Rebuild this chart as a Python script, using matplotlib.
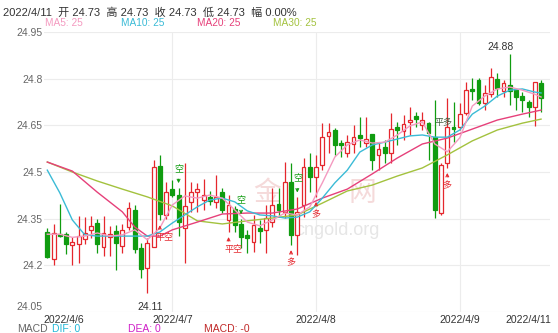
import matplotlib
matplotlib.use('Agg')
import matplotlib.pyplot as plt
import numpy as np

plt.rcParams['font.family'] = ['Liberation Sans', 'Noto Sans CJK SC', 'DejaVu Sans']

# --- candle data (80 bars) ---
opens = [24.307, 24.220, 24.300, 24.300, 24.266, 24.268, 24.285, 24.313, 24.336, 24.260,
         24.290, 24.310, 24.262, 24.323, 24.378, 24.256, 24.191, 24.260, 24.520, 24.362,
         24.445, 24.426, 24.320, 24.404, 24.436, 24.410, 24.420, 24.404, 24.436, 24.346,
         24.381, 24.333, 24.298, 24.275, 24.320, 24.314, 24.340, 24.397, 24.372, 24.468,
         24.298, 24.394, 24.516, 24.484, 24.522, 24.616, 24.635, 24.593, 24.561, 24.590,
         24.619, 24.593, 24.622, 24.555, 24.580, 24.561, 24.645, 24.632, 24.661, 24.680,
         24.651, 24.657, 24.612, 24.368, 24.529, 24.645, 24.645, 24.690, 24.767, 24.795,
         24.722, 24.750, 24.799, 24.760, 24.780, 24.763, 24.744, 24.725, 24.709, 24.786]
highs = [24.320, 24.333, 24.397, 24.307, 24.290, 24.360, 24.355, 24.360, 24.350, 24.360,
         24.327, 24.330, 24.333, 24.403, 24.394, 24.272, 24.288, 24.540, 24.555, 24.468,
         24.475, 24.450, 24.530, 24.468, 24.465, 24.478, 24.440, 24.490, 24.450, 24.426,
         24.390, 24.350, 24.313, 24.362, 24.346, 24.394, 24.449, 24.449, 24.532, 24.529,
         24.420, 24.545, 24.561, 24.555, 24.657, 24.657, 24.641, 24.603, 24.619, 24.651,
         24.677, 24.677, 24.622, 24.593, 24.603, 24.690, 24.660, 24.683, 24.709, 24.693,
         24.693, 24.661, 24.731, 24.530, 24.738, 24.725, 24.722, 24.789, 24.802, 24.802,
         24.779, 24.834, 24.818, 24.795, 24.880, 24.770, 24.757, 24.731, 24.789, 24.795]
lows = [24.224, 24.200, 24.290, 24.237, 24.200, 24.207, 24.270, 24.288, 24.240, 24.230,
        24.230, 24.185, 24.240, 24.313, 24.240, 24.160, 24.110, 24.260, 24.345, 24.350,
        24.420, 24.295, 24.207, 24.370, 24.370, 24.378, 24.394, 24.384, 24.368, 24.307,
        24.307, 24.256, 24.240, 24.243, 24.272, 24.240, 24.323, 24.355, 24.352, 24.265,
        24.233, 24.355, 24.436, 24.420, 24.506, 24.561, 24.555, 24.548, 24.548, 24.561,
        24.580, 24.580, 24.506, 24.506, 24.529, 24.529, 24.587, 24.603, 24.619, 24.645,
        24.635, 24.539, 24.352, 24.362, 24.513, 24.596, 24.635, 24.683, 24.731, 24.715,
        24.699, 24.741, 24.741, 24.741, 24.715, 24.699, 24.693, 24.677, 24.648, 24.693]
closes = [24.227, 24.305, 24.295, 24.270, 24.276, 24.295, 24.305, 24.327, 24.268, 24.305,
          24.300, 24.272, 24.313, 24.384, 24.252, 24.188, 24.272, 24.515, 24.365, 24.436,
          24.427, 24.340, 24.390, 24.436, 24.445, 24.426, 24.407, 24.420, 24.378, 24.394,
          24.330, 24.290, 24.288, 24.330, 24.310, 24.352, 24.394, 24.378, 24.468, 24.298,
          24.372, 24.516, 24.484, 24.516, 24.612, 24.628, 24.587, 24.587, 24.596, 24.612,
          24.609, 24.606, 24.539, 24.574, 24.561, 24.638, 24.635, 24.654, 24.667, 24.670,
          24.667, 24.625, 24.378, 24.522, 24.645, 24.638, 24.686, 24.763, 24.760, 24.722,
          24.754, 24.805, 24.770, 24.786, 24.760, 24.741, 24.731, 24.709, 24.789, 24.738]

# moving averages as drawn in the reference (sampled bars)
ma5_idx = [0, 2, 4, 6, 8, 10, 12, 14, 16, 18, 20, 22, 24, 26, 28, 30, 32, 34, 36, 38,
           40, 42, 44, 46, 48, 50, 52, 54, 56, 58, 60, 62, 64, 66, 68, 70, 72, 74, 76, 78, 79]
ma5_val = [24.300, 24.300, 24.290, 24.294, 24.304, 24.294, 24.298, 24.314, 24.282, 24.320,
           24.394, 24.423, 24.416, 24.426, 24.416, 24.378, 24.339, 24.327, 24.346, 24.368,
           24.362, 24.388, 24.465, 24.548, 24.587, 24.603, 24.593, 24.596, 24.619, 24.648,
           24.661, 24.590, 24.565, 24.610, 24.712, 24.744, 24.767, 24.773, 24.763, 24.750, 24.741]
ma10_idx = [0, 2, 4, 6, 8, 12, 16, 18, 20, 22, 24, 26, 28, 30, 32, 34, 36, 38, 40, 42,
            44, 46, 48, 50, 52, 54, 56, 58, 60, 62, 64, 66, 68, 70, 72, 74, 76, 78, 79]
ma10_val = [24.506, 24.433, 24.346, 24.298, 24.294, 24.294, 24.294, 24.307, 24.336, 24.362,
            24.388, 24.410, 24.416, 24.404, 24.375, 24.362, 24.359, 24.352, 24.355, 24.372,
            24.416, 24.465, 24.506, 24.564, 24.587, 24.596, 24.606, 24.616, 24.619, 24.612,
            24.612, 24.635, 24.686, 24.712, 24.744, 24.763, 24.767, 24.757, 24.754]
ma20_idx = [0, 4, 8, 12, 14, 16, 18, 20, 24, 28, 32, 36, 40, 44, 48, 52, 56, 60, 64, 68, 72, 76, 79]
ma20_val = [24.532, 24.503, 24.435, 24.372, 24.323, 24.294, 24.294, 24.314, 24.339, 24.365,
            24.368, 24.368, 24.381, 24.416, 24.445, 24.494, 24.545, 24.590, 24.609, 24.638,
            24.667, 24.686, 24.699]
ma30_idx = [0, 4, 8, 12, 16, 20, 24, 28, 32, 36, 40, 44, 48, 52, 56, 60, 64, 68, 72, 76, 79]
ma30_val = [24.532, 24.500, 24.471, 24.445, 24.420, 24.391, 24.343, 24.333, 24.343, 24.352,
            24.362, 24.400, 24.439, 24.458, 24.487, 24.513, 24.555, 24.600, 24.635, 24.657, 24.670]

date_pos = [2.7, 20, 43, 66, 77]
date_labels = ['2022/4/6', '2022/4/7', '2022/4/8', '2022/4/9', '2022/4/11']
day_breaks = [20, 43, 66]
y_ticks = [24.05, 24.2, 24.35, 24.5, 24.65, 24.8, 24.95]

# trade signals
sig_idx = [18, 21, 29, 31, 39, 40, 43, 64]
sig_text = ['平空', '空', '平空', '空', '多', '空', '多', '多']
sig_side = ['below', 'above', 'below', 'above', 'below', 'above', 'below', 'below']
pingduo_pos = (63.4, 24.66)

RED = '#e5272d'
GREEN = '#109c10'
MA_COLORS = {'MA5': '#f49ac0', 'MA10': '#3bbbd6', 'MA20': '#e6407a', 'MA30': '#a3c23e'}

fig = plt.figure(figsize=(5.58, 3.33), dpi=100)
ax = fig.add_axes([44 / 558, 21 / 333, 506 / 558, 280 / 333])
ax.set_xlim(-0.53, 80.43)
ax.set_ylim(24.05, 24.95)

for s in ax.spines.values():
    s.set_visible(False)
for t in y_ticks:
    ax.axhline(t, color='#ececec', lw=0.8, zorder=0)
for d in day_breaks:
    ax.axvline(d, color='#ececec', lw=0.8, zorder=0)

# watermark (faint logo text, middle part hidden behind the candles)
ax.text(0.44, 0.42, '金', transform=ax.transAxes, fontsize=20,
        color='#f5dada', ha='center', va='center', zorder=0.5)
ax.text(0.63, 0.42, '网', transform=ax.transAxes, fontsize=20,
        color='#f5dada', ha='center', va='center', zorder=0.5)
ax.text(0.58, 0.29, 'cngold.org', transform=ax.transAxes, fontsize=13,
        color='#e6e6e6', ha='center', va='center', zorder=0.5)

# candles
o = np.array(opens); h = np.array(highs); l = np.array(lows); c = np.array(closes)
x = np.arange(len(o))
up = c >= o
cols = np.where(up, RED, GREEN)
ax.vlines(x, l, h, colors=cols, lw=0.9, zorder=2)
body = np.maximum(np.abs(c - o), 0.003)
bottom = np.minimum(o, c)
ax.bar(x[up], body[up], bottom=bottom[up], width=0.62, color='white',
       edgecolor=RED, linewidth=0.9, zorder=3)
ax.bar(x[~up], body[~up], bottom=bottom[~up], width=0.62, color=GREEN,
       edgecolor=GREEN, linewidth=0.9, zorder=3)

# moving averages
ax.plot(ma30_idx, ma30_val, color=MA_COLORS['MA30'], lw=1, zorder=4)
ax.plot(ma20_idx, ma20_val, color=MA_COLORS['MA20'], lw=1, zorder=4)
ax.plot(ma10_idx, ma10_val, color=MA_COLORS['MA10'], lw=1, zorder=4)
ax.plot(ma5_idx, ma5_val, color=MA_COLORS['MA5'], lw=1, zorder=4)

# signals
for i, txt, side in zip(sig_idx, sig_text, sig_side):
    if side == 'below':
        col = RED
        ax.annotate('', xy=(i, lows[i] - 0.007), xytext=(i, lows[i] - 0.038),
                    arrowprops=dict(arrowstyle='->', color=col, lw=0.8, mutation_scale=5), zorder=5)
        ax.text(i + (0.8 if len(txt) > 1 else 0), lows[i] - 0.056, txt, color=col,
                fontsize=6.5, ha='center', va='center', zorder=5)
    else:
        col = GREEN
        ax.annotate('', xy=(i, highs[i] + 0.005), xytext=(i, highs[i] + 0.036),
                    arrowprops=dict(arrowstyle='->', color=col, lw=0.8, mutation_scale=5), zorder=5)
        ax.text(i, highs[i] + 0.058, txt, color=col, fontsize=6.5,
                ha='center', va='center', zorder=5)
ax.text(pingduo_pos[0], pingduo_pos[1], '平多', color='#3f5f3f', fontsize=6.5,
        ha='center', va='center', zorder=5)

# extreme labels
imax = int(np.argmax(h)); imin = int(np.argmin(l))
ax.annotate(f'{h[imax]:.2f}', xy=(imax, h[imax]), xytext=(-7, 1.5), textcoords='offset points',
            ha='center', va='bottom', fontsize=7.5, color='#333333')
ax.annotate(f'{l[imin]:.2f}', xy=(imin, l[imin]), xytext=(2, -6), textcoords='offset points',
            ha='center', va='top', fontsize=7.5, color='#333333')

# axes ticks
ax.set_yticks(y_ticks)
ax.set_yticklabels([f'{t:g}' for t in y_ticks])
ax.tick_params(axis='y', length=0, pad=1, labelsize=7.5, labelcolor='#666666')
ax.get_yticklabels()[0].set_va('bottom')
ax.set_xticks(date_pos)
ax.set_xticklabels(date_labels)
ax.tick_params(axis='x', length=0, pad=2, labelsize=7.5, labelcolor='#333333')

# header
fig.text(3 / 558, 1 - 13 / 333, '2022/4/11  开 24.73  高 24.73  收 24.73  低 24.73  幅 0.00%',
         fontsize=8, color='#333333', va='center', ha='left')
for name, xp in zip(['MA5', 'MA10', 'MA20', 'MA30'], [45, 121, 197, 273]):
    fig.text(xp / 558, 1 - 23 / 333, f'{name}: 25', fontsize=7.3,
             color=MA_COLORS[name], va='center', ha='left')

# MACD row
for txt, xp, col in [('MACD', 17, '#666666'), ('DIF: 0', 52, '#22b8d8'),
                     ('DEA: 0', 128, '#d020c8'), ('MACD: -0', 204, '#c02828')]:
    fig.text(xp / 558, 1 - 329 / 333, txt, fontsize=7.5, color=col, va='center', ha='left')

fig.savefig('out.png', dpi=100)
